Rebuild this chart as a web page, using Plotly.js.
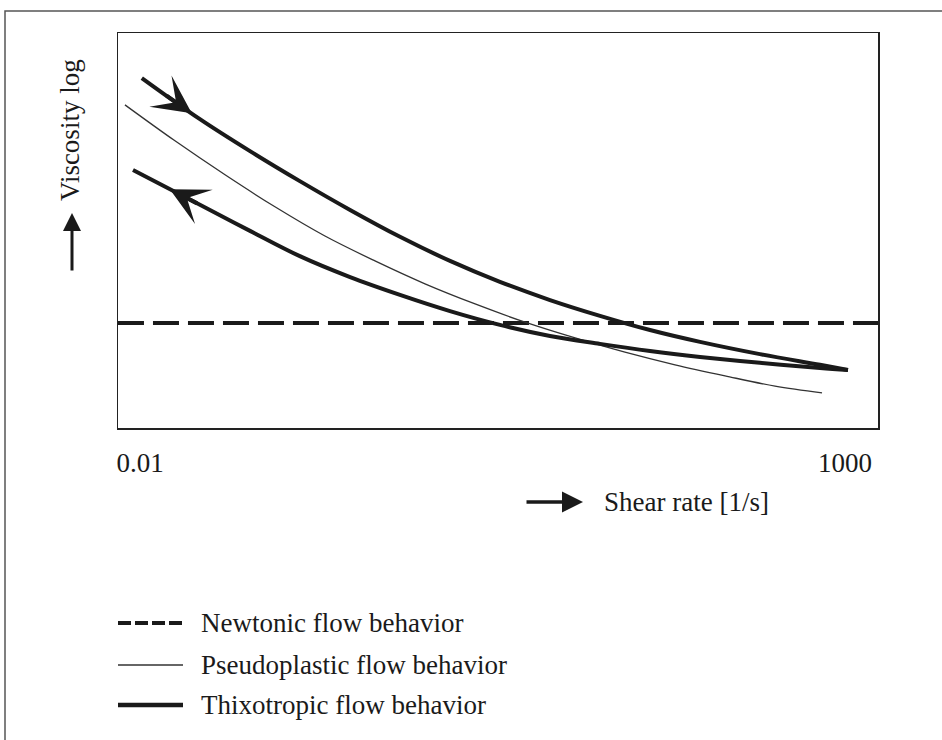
<!DOCTYPE html>
<html>
<head>
<meta charset="utf-8">
<script src="https://cdn.plot.ly/plotly-3.0.1.min.js"></script>
<style>
  html, body { margin: 0; padding: 0; background: #fff; }
  #chart { width: 942px; height: 740px; }
</style>
</head>
<body>
<div id="chart"></div>
<script>
// ---------- data ----------
var seriesNames = ["Newtonic flow behavior", "Pseudoplastic flow behavior", "Thixotropic flow behavior"];
var xTickVals = [0.01, 1000];
var xTickText = ["0.01", "1000"];

// Newtonic: constant viscosity across the whole shear-rate range
var newtonShear = [0.00698, 1714];
var newtonVisc  = [2.66, 2.66];

// Pseudoplastic (shear thinning)
var pseudoShear = [0.00782, 0.0177, 0.0401, 0.0906, 0.205, 0.464, 1.05, 2.38, 5.38, 12.2, 27.5, 62.3, 141, 319, 687];
var pseudoVisc  = [8.18, 7.27, 6.41, 5.60, 4.86, 4.23, 3.65, 3.14, 2.68, 2.28, 1.92, 1.60, 1.32, 1.06, 0.89];

// Thixotropic – increasing shear (upper branch)
var thixoUpShear = [0.0103, 0.0266, 0.0603, 0.136, 0.309, 0.698, 1.58, 3.57, 8.09, 18.3, 41.4, 93.7, 249, 665, 1050];
var thixoUpVisc  = [8.86, 7.82, 7.01, 6.25, 5.52, 4.84, 4.23, 3.70, 3.24, 2.84, 2.48, 2.18, 1.87, 1.60, 1.47];

// Thixotropic – decreasing shear (lower branch)
var thixoDownShear = [0.00892, 0.0266, 0.0603, 0.136, 0.309, 0.698, 1.58, 3.57, 8.09, 18.3, 41.4, 93.7, 249, 665, 1050];
var thixoDownVisc  = [6.53, 5.65, 4.99, 4.35, 3.82, 3.37, 2.96, 2.61, 2.33, 2.13, 1.95, 1.80, 1.65, 1.52, 1.47];

// ---------- styling ----------
var FONT = "Liberation Serif, Times New Roman, serif";
var INK = "#1a1a1a";
var FS = 27;

var W = 942, H = 740;
var M = {l: 118, r: 64, t: 33, b: 312};
var plotW = W - M.l - M.r, plotH = H - M.t - M.b;
function px(x) { return (x - M.l) / plotW; }        // page px -> paper x
function py(y) { return (M.t + plotH - y) / plotH; } // page px -> paper y

var traces = [
  {x: newtonShear, y: newtonVisc, name: seriesNames[0], mode: "lines",
   line: {color: INK, width: 4, dash: "26px,9px"}},
  {x: pseudoShear, y: pseudoVisc, name: seriesNames[1], mode: "lines",
   line: {color: "#333", width: 1.3, shape: "spline"}},
  {x: thixoUpShear, y: thixoUpVisc, name: seriesNames[2], mode: "lines",
   line: {color: INK, width: 4, shape: "spline"}},
  {x: thixoDownShear, y: thixoDownVisc, name: seriesNames[2], mode: "lines", showlegend: false,
   line: {color: INK, width: 4, shape: "spline"}}
];

// direction arrows placed on the thixotropic branches (interpolated between first two points)
function along(xs, ys, t) {
  var lx0 = Math.log10(xs[0]), lx1 = Math.log10(xs[1]);
  return {x: lx0 + t * (lx1 - lx0), y: ys[0] + t * (ys[1] - ys[0])};
}
var upTip = along(thixoUpShear, thixoUpVisc, 0.86), upTail = along(thixoUpShear, thixoUpVisc, 0.4);
var dnTip = along(thixoDownShear, thixoDownVisc, 0.55), dnTail = along(thixoDownShear, thixoDownVisc, 0.98);

var annotations = [
  {xref: "x", yref: "y", axref: "x", ayref: "y", x: upTip.x, y: upTip.y, ax: upTail.x, ay: upTail.y,
   text: "", showarrow: true, arrowhead: 3, arrowsize: 1.6, arrowwidth: 4, arrowcolor: INK, standoff: 0},
  {xref: "x", yref: "y", axref: "x", ayref: "y", x: dnTip.x, y: dnTip.y, ax: dnTail.x, ay: dnTail.y,
   text: "", showarrow: true, arrowhead: 3, arrowsize: 1.6, arrowwidth: 4, arrowcolor: INK, standoff: 0},
  // y axis title + arrow
  {xref: "paper", yref: "paper", x: px(70), y: py(130), text: "Viscosity log", textangle: -90,
   showarrow: false, font: {family: FONT, size: FS, color: INK}, xanchor: "center", yanchor: "middle"},
  {xref: "paper", yref: "paper", x: px(72), y: py(213), ax: 0, ay: 59, text: "", showarrow: true,
   arrowhead: 2, arrowsize: 1.2, arrowwidth: 3, arrowcolor: INK, standoff: 0},
  // x axis title + arrow
  {xref: "paper", yref: "paper", x: px(602), y: py(502), text: "Shear rate [1/s]", showarrow: false,
   font: {family: FONT, size: FS, color: INK}, xanchor: "left", yanchor: "middle"},
  {xref: "paper", yref: "paper", x: px(583), y: py(502), ax: -58, ay: 0, text: "", showarrow: true,
   arrowhead: 2, arrowsize: 1.2, arrowwidth: 3.5, arrowcolor: INK, standoff: 0}
];

// hand-built legend (long line samples as in the reference)
var legendY = [623, 665, 705];
var legendStyles = [
  {color: INK, width: 4, dash: "13px,4px"},
  {color: "#333", width: 1.3, dash: "solid"},
  {color: INK, width: 4.5, dash: "solid"}
];
var shapes = [
  // outer frame of the figure
  {type: "rect", xref: "paper", yref: "paper", x0: px(5), x1: px(960), y0: py(760), y1: py(11),
   line: {color: "#555", width: 1.5}, fillcolor: "rgba(0,0,0,0)", layer: "below"}
];
for (var i = 0; i < seriesNames.length; i++) {
  shapes.push({type: "line", xref: "paper", yref: "paper", x0: px(118), x1: px(183),
    y0: py(legendY[i]), y1: py(legendY[i]), line: legendStyles[i]});
  annotations.push({xref: "paper", yref: "paper", x: px(199), y: py(legendY[i]), text: seriesNames[i],
    showarrow: false, xanchor: "left", yanchor: "middle", font: {family: FONT, size: FS, color: INK}});
}

var layout = {
  width: W, height: H,
  margin: M,
  paper_bgcolor: "#fff", plot_bgcolor: "#fff",
  showlegend: false,
  font: {family: FONT, size: FS, color: INK},
  xaxis: {
    type: "log", range: [-2.156, 3.234],
    tickvals: xTickVals, ticktext: xTickText, ticks: "",
    tickfont: {family: FONT, size: FS, color: INK}, ticklabelstandoff: 10,
    showgrid: false, zeroline: false,
    showline: true, mirror: true, linecolor: "#222", linewidth: 1.5
  },
  yaxis: {
    range: [0, 10], showticklabels: false, ticks: "",
    showgrid: false, zeroline: false,
    showline: true, mirror: true, linecolor: "#222", linewidth: 1.5
  },
  annotations: annotations,
  shapes: shapes
};

Plotly.newPlot("chart", traces, layout, {staticPlot: true, displayModeBar: false});
</script>
</body>
</html>
